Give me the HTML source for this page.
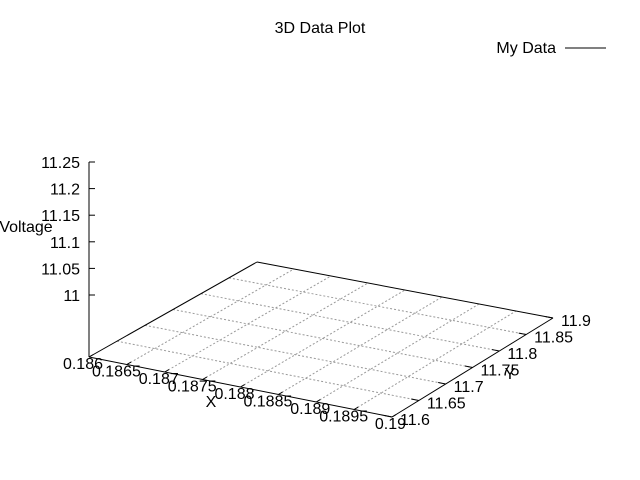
<!DOCTYPE html>
<html><head><meta charset="utf-8"><style>
body{margin:0;background:#fff}
svg{display:block;font-family:"Liberation Sans",sans-serif}
</style></head><body>
<svg id="chart" width="640" height="480" viewBox="0 0 640 480" xmlns="http://www.w3.org/2000/svg">
<rect width="640" height="480" fill="#fff"/>
<text x="320" y="33" font-size="16" text-anchor="middle">3D Data Plot</text>
<text x="556" y="53" font-size="16" text-anchor="end">My Data</text>
<line x1="565" y1="48" x2="606" y2="48" stroke="#000" stroke-width="1"/>
<text x="211" y="407" font-size="16" text-anchor="middle">X</text>
<text x="510" y="379" font-size="16" text-anchor="middle">Y</text>
<text x="26" y="232" font-size="16" text-anchor="middle">Voltage</text>
<g id="plot"></g>
</svg>
<script>
const xTicks=[0.186,0.1865,0.187,0.1875,0.188,0.1885,0.189,0.1895,0.19];
const xTickLabels=["0.186","0.1865","0.187","0.1875","0.188","0.1885","0.189","0.1895","0.19"];
const yTicks=[11.6,11.65,11.7,11.75,11.8,11.85,11.9];
const yTickLabels=["11.6","11.65","11.7","11.75","11.8","11.85","11.9"];
const zTicks=[11,11.05,11.1,11.15,11.2,11.25];
const zTickLabels=["11","11.05","11.1","11.15","11.2","11.25"];
const xMin=0.186,xMax=0.19,yMin=11.6,yMax=11.9,zMin=11,zMax=11.25;
const C00=[89,357],C10=[392,417],C11=[553,318],C01=[257,262];
function proj(x,y){
  const u=(x-xMin)/(xMax-xMin),v=(y-yMin)/(yMax-yMin);
  const px=(1-u)*(1-v)*C00[0]+u*(1-v)*C10[0]+u*v*C11[0]+(1-u)*v*C01[0];
  const py=(1-u)*(1-v)*C00[1]+u*(1-v)*C10[1]+u*v*C11[1]+(1-u)*v*C01[1];
  return [px,py];
}
function zScale(z){return 295-(z-zMin)/(zMax-zMin)*(295-162);}
const g=document.getElementById('plot');
const NS='http://www.w3.org/2000/svg';
function ln(a,b,stroke,dash,name){
  const l=document.createElementNS(NS,'line');
  l.setAttribute('x1',a[0]);l.setAttribute('y1',a[1]);l.setAttribute('x2',b[0]);l.setAttribute('y2',b[1]);
  l.setAttribute('stroke',stroke);l.setAttribute('stroke-width','1');
  if(dash)l.setAttribute('stroke-dasharray',dash);
  
  
  g.appendChild(l);return l;
}
function tx(x,y,s,anchor,name){
  const t=document.createElementNS(NS,'text');
  t.setAttribute('x',x);t.setAttribute('y',y);t.setAttribute('font-size','16');t.setAttribute('text-anchor',anchor);
  t.textContent=s;
  
  
  g.appendChild(t);
}
xTicks.forEach((x,i)=>{ if(i>0&&i<xTicks.length-1) ln(proj(x,yMin),proj(x,yMax),'#999','2,2','x-grid-line'); });
yTicks.forEach((y,i)=>{ if(i>0&&i<yTicks.length-1) ln(proj(xMin,y),proj(xMax,y),'#999','2,2','y-grid-line'); });
ln(proj(xMin,yMin),proj(xMax,yMin),'#000',null,'x-axis-line');
ln(proj(xMax,yMin),proj(xMax,yMax),'#000',null,'y-axis-line');
ln(proj(xMax,yMax),proj(xMin,yMax),'#000',null,'base-back-edge');
ln(proj(xMin,yMax),proj(xMin,yMin),'#000',null,'base-left-edge');
xTicks.forEach((x,i)=>{
  const a=proj(x,yMin),b=proj(x,yMin+(yMax-yMin)*0.025);
  ln(a,b,'#000',null,'x-tick');
  tx(a[0]+14,a[1]+12,xTickLabels[i],'end','x-tick-label');
});
yTicks.forEach((y,i)=>{
  const a=proj(xMax,y),b=proj(xMax-(xMax-xMin)*0.025,y);
  ln(a,b,'#000',null,'y-tick');
  tx(a[0]+8,a[1]+8,yTickLabels[i],'start','y-tick-label');
});
ln([89,zScale(zMax)],[89,357],'#000',null,'z-axis-line');
zTicks.forEach((z,i)=>{
  const y=zScale(z);
  ln([89,y],[95,y],'#000',null,'z-tick');
  tx(80,y+6,zTickLabels[i],'end','z-tick-label');
});
</script>
</body></html>
